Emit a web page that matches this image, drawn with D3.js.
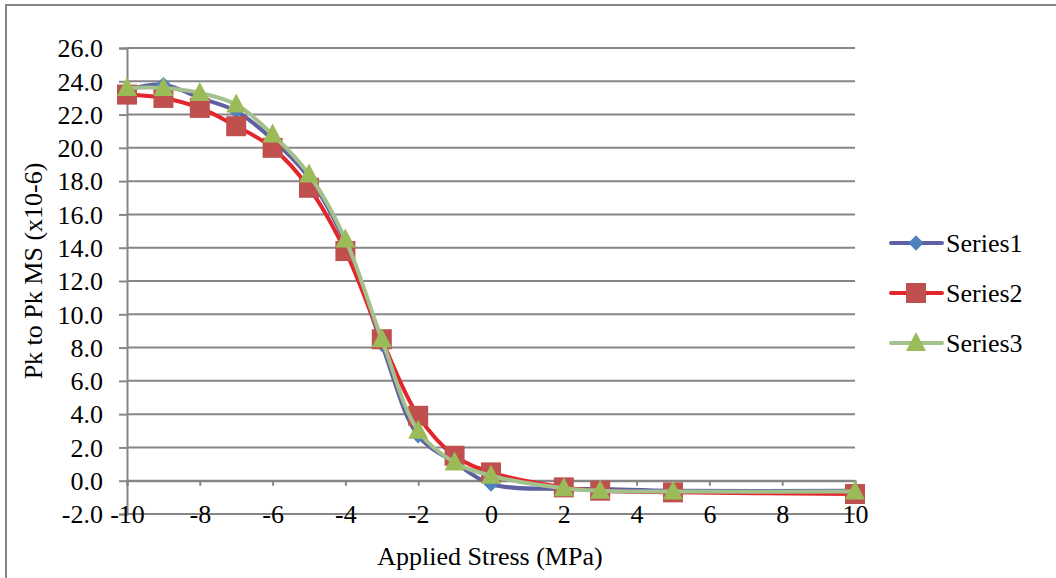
<!DOCTYPE html>
<html>
<head>
<meta charset="utf-8">
<script src="https://cdn.jsdelivr.net/npm/d3@7"></script>
<style>
  html, body { margin: 0; padding: 0; background: #fff; }
  svg { display: block; }
  text { font-family: "Liberation Serif", "Times New Roman", serif; fill: #000; }
</style>
</head>
<body>
<svg id="chart" width="1056" height="578"></svg>
<script>
// Applied stress (MPa)
const stress = [-10, -9, -8, -7, -6, -5, -4, -3, -2, -1, 0, 2, 3, 5, 10];
// Peak-to-peak magnetostriction (x10-6)
const series1 = [23.5, 23.8, 23.0, 22.2, 20.5, 18.2, 14.3, 8.2, 2.7, 1.1, -0.2, -0.5, -0.5, -0.6, -0.6];
const series2 = [23.2, 23.0, 22.4, 21.3, 20.0, 17.6, 13.8, 8.5, 3.9, 1.5, 0.5, -0.4, -0.6, -0.7, -0.8];
const series3 = [23.6, 23.6, 23.3, 22.6, 20.8, 18.4, 14.5, 8.5, 3.0, 1.1, 0.3, -0.45, -0.6, -0.65, -0.65];
const seriesNames = ["Series1", "Series2", "Series3"];
const xTicks = [-10, -8, -6, -4, -2, 0, 2, 4, 6, 8, 10];
const yTicks = [-2, 0, 2, 4, 6, 8, 10, 12, 14, 16, 18, 20, 22, 24, 26];

const styles = [
  { line: "#5f60a3", fill: "#4f81bd", shape: "diamond" },
  { line: "#e3262c", fill: "#c0504d", shape: "square" },
  { line: "#a3c18d", fill: "#9bbb59", shape: "triangle" }
];

const FONT = "26px";
const svg = d3.select("#chart");

// chart frame (left and top edges)
svg.append("path")
  .attr("d", "M6,578 V5 H1056")
  .attr("fill", "none").attr("stroke", "#868686").attr("stroke-width", 2);

const x = d3.scaleLinear().domain([-10, 10]).range([127, 855]);
const y = d3.scaleLinear().domain([-2, 26]).range([514, 48]);

// horizontal gridlines
svg.append("g").selectAll("line").data(yTicks).join("line")
  .attr("x1", x(-10)).attr("x2", x(10))
  .attr("y1", d => y(d)).attr("y2", d => y(d))
  .attr("stroke", "#868686").attr("stroke-width", 2);

// y axis
const yAxis = d3.axisLeft(y).tickValues(yTicks).tickSize(8)
  .tickFormat(d => d.toFixed(1));
const gy = svg.append("g").attr("transform", `translate(${x(-10)},0)`).call(yAxis);
gy.select(".domain").attr("stroke", "#868686").attr("stroke-width", 2);
gy.selectAll(".tick line").attr("stroke", "#868686").attr("stroke-width", 2);
gy.selectAll(".tick text")
  .style("font-family", "Liberation Serif, serif").style("font-size", FONT)
  .attr("fill", "#000").attr("x", -24).attr("dy", "0.34em");

// x axis crosses at y = 0, labels sit at the bottom of the plot
const xAxis = d3.axisBottom(x).tickValues(xTicks).tickSize(5).tickFormat(d => String(d));
const gx = svg.append("g").attr("transform", `translate(0,${y(0)})`).call(xAxis);
gx.select(".domain").attr("stroke", "#868686").attr("stroke-width", 2);
gx.selectAll(".tick line").attr("stroke", "#868686").attr("stroke-width", 2);
gx.selectAll(".tick text")
  .style("font-family", "Liberation Serif, serif").style("font-size", FONT)
  .attr("fill", "#000").attr("y", y(-2) - y(0)).attr("dy", "0.34em");

// axis titles
svg.append("text").attr("x", 490).attr("y", 565)
  .attr("text-anchor", "middle").style("font-size", FONT)
  .text("Applied Stress (MPa)");
svg.append("text")
  .attr("transform", "translate(42,271) rotate(-90)")
  .attr("text-anchor", "middle").style("font-size", FONT)
  .text("Pk to Pk MS (x10-6)");

function marker(g, shape, cx, cy, color) {
  if (shape === "diamond") {
    g.append("path").attr("d", d3.symbol(d3.symbolDiamond2, 150)())
      .attr("transform", `translate(${cx},${cy})`).attr("fill", color);
  } else if (shape === "square") {
    g.append("rect").attr("x", cx - 10).attr("y", cy - 10)
      .attr("width", 20).attr("height", 20).attr("fill", color);
  } else {
    g.append("path").attr("d", `M${cx},${cy - 11} L${cx + 10},${cy + 8} L${cx - 10},${cy + 8} Z`)
      .attr("fill", color);
  }
}

const line = d3.line().x(d => x(d[0])).y(d => y(d[1])).curve(d3.curveCatmullRom.alpha(0.5));
const allSeries = [series1, series2, series3];

allSeries.forEach((vals, i) => {
  const st = styles[i];
  const pts = stress.map((s, k) => [s, vals[k]]);
  const g = svg.append("g");
  g.append("path").datum(pts).attr("d", line)
    .attr("fill", "none").attr("stroke", st.line).attr("stroke-width", 4)
    .attr("stroke-linejoin", "round").attr("stroke-linecap", "round");
  pts.forEach(p => marker(g, st.shape, x(p[0]), y(p[1]), st.fill));
});

// legend
const legendY = [243, 293, 343];
seriesNames.forEach((name, i) => {
  const st = styles[i];
  const g = svg.append("g");
  g.append("line").attr("x1", 891).attr("x2", 942)
    .attr("y1", legendY[i]).attr("y2", legendY[i])
    .attr("stroke", st.line).attr("stroke-width", 4).attr("stroke-linecap", "round");
  marker(g, st.shape, 916, legendY[i], st.fill);
  g.append("text").attr("x", 946).attr("y", legendY[i]).attr("dy", "0.34em")
    .style("font-size", FONT).text(name);
});
</script>
</body>
</html>
